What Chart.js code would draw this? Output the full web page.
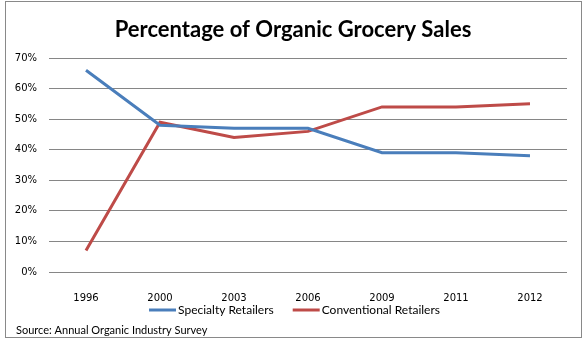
<!DOCTYPE html>
<html>
<head>
<meta charset="utf-8">
<title>Percentage of Organic Grocery Sales</title>
<script src="https://cdn.jsdelivr.net/npm/chart.js@4/dist/chart.umd.min.js"></script>
<style>
  body { margin: 0; background: #fff; }
  canvas { display: block; }
</style>
</head>
<body>
<canvas id="chart" width="587" height="343"></canvas>
<script>
var years = ['1996', '2000', '2003', '2006', '2009', '2011', '2012'];
var specialty = [66, 48, 47, 47, 39, 39, 38];
var conventional = [7, 49, 44, 46, 54, 54, 55];
var seriesNames = ['Specialty Retailers', 'Conventional Retailers'];
var chartTitle = 'Percentage of Organic Grocery Sales';
var sourceNote = 'Source: Annual Organic Industry Survey';

// frame, title, legend and source line around the plot
var decorations = {
  id: 'decorations',
  beforeDraw: function(chart) {
    var ctx = chart.ctx;
    ctx.save();
    ctx.fillStyle = '#fff';
    ctx.fillRect(0, 0, chart.width, chart.height);
    ctx.strokeStyle = '#898989';
    ctx.lineWidth = 1;
    ctx.strokeRect(5.5, 1.5, 576, 336);
    ctx.restore();
  },
  afterDraw: function(chart) {
    var ctx = chart.ctx;
    var sets = chart.data.datasets;
    ctx.save();
    ctx.fillStyle = '#000';
    ctx.textAlign = 'center';
    ctx.textBaseline = 'alphabetic';
    ctx.font = 'bold 22px Lato';
    ctx.fillText(chartTitle, 293, 37);

    ctx.textAlign = 'left';
    ctx.textBaseline = 'middle';
    ctx.font = '12px Lato';
    var lineLen = 27, gap = 2, spacing = 19;
    var total = 0;
    sets.forEach(function(ds, i) {
      total += lineLen + gap + ctx.measureText(ds.label).width;
      if (i < sets.length - 1) total += spacing;
    });
    var x = 294.5 - total / 2;
    var y = 310;
    sets.forEach(function(ds) {
      ctx.strokeStyle = ds.borderColor;
      ctx.lineWidth = 3;
      ctx.beginPath();
      ctx.moveTo(x, y);
      ctx.lineTo(x + lineLen, y);
      ctx.stroke();
      x += lineLen + gap;
      ctx.fillText(ds.label, x, y);
      x += ctx.measureText(ds.label).width + spacing;
    });
    ctx.font = '11px Lato';
    ctx.fillText(sourceNote, 16, 330);
    ctx.restore();
  }
};

var ctx = document.getElementById('chart').getContext('2d');
var chart = new Chart(ctx, {
  type: 'line',
  data: {
    labels: years,
    datasets: [{
      label: seriesNames[0],
      data: specialty,
      borderColor: '#4a7ebb',
      backgroundColor: '#4a7ebb',
      borderWidth: 3,
      pointRadius: 0,
      tension: 0
    }, {
      label: seriesNames[1],
      data: conventional,
      borderColor: '#be4b48',
      backgroundColor: '#be4b48',
      borderWidth: 3,
      pointRadius: 0,
      tension: 0
    }]
  },
  options: {
    responsive: false,
    animation: false,
    layout: {
      padding: { top: 58, right: 20, bottom: 0, left: 0 }
    },
    plugins: {
      legend: { display: false },
      tooltip: { enabled: false },
      title: { display: false }
    },
    scales: {
      x: {
        offset: true,
        grid: { display: false },
        border: { display: false },
        ticks: {
          color: '#000',
          font: { family: 'DejaVu Sans', size: 10 },
          padding: 12,
          maxRotation: 0
        },
        afterFit: function(scale) { scale.height = 71; }
      },
      y: {
        min: 0,
        max: 70,
        grid: { color: '#868686', drawTicks: false },
        border: { display: false },
        ticks: {
          stepSize: 10,
          color: '#000',
          font: { family: 'DejaVu Sans', size: 10 },
          padding: 12,
          callback: function(v) { return v + '%'; }
        },
        afterFit: function(scale) { scale.width = 49; }
      }
    }
  },
  plugins: [decorations]
});
</script>
</body>
</html>
